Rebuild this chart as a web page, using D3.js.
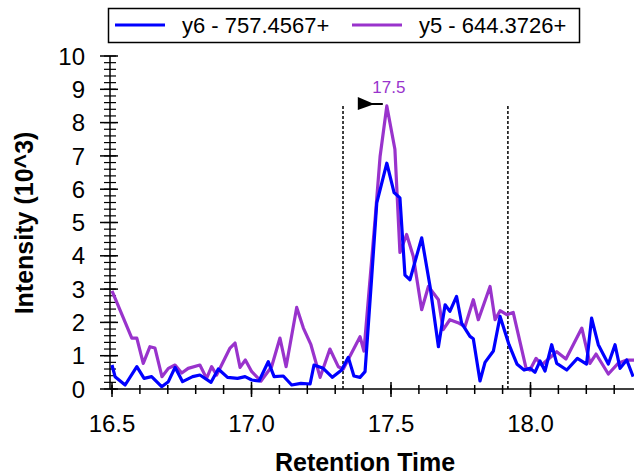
<!DOCTYPE html>
<html>
<head>
<meta charset="utf-8">
<script src="https://cdn.jsdelivr.net/npm/d3@7/dist/d3.min.js"></script>
<style>
body { margin: 0; background: #fff; }
text { font-family: "Liberation Sans", Arial, sans-serif; }
</style>
</head>
<body>
<svg width="634" height="476"></svg>
<script>
// y5 - 644.3726+ (purple)
var rtY5 = [16.50,16.571,16.589,16.612,16.636,16.654,16.679,16.702,16.726,16.750,16.773,16.815,16.839,16.857,16.875,16.923,16.941,16.959,16.978,17.001,17.034,17.072,17.102,17.124,17.162,17.186,17.213,17.246,17.281,17.311,17.329,17.389,17.403,17.443,17.461,17.485,17.514,17.532,17.556,17.580,17.610,17.634,17.670,17.687,17.711,17.740,17.765,17.795,17.813,17.855,17.873,17.891,17.915,17.938,17.984,17.998,18.020,18.040,18.094,18.127,18.184,18.213,18.235,18.279,18.314,18.345,18.371];
var intY5 = [2.95,1.53,1.53,0.77,1.27,1.23,0.37,0.62,0.72,0.48,0.62,0.72,0.32,0.67,0.42,1.23,1.38,0.65,0.87,0.52,0.24,0.67,1.53,0.67,2.45,1.83,1.33,0.35,1.20,0.67,0.60,1.57,1.14,5.09,6.99,8.50,7.20,4.10,4.64,3.98,2.38,3.08,2.68,1.78,2.08,1.99,1.87,2.68,2.08,3.08,2.08,2.35,2.23,2.30,0.63,0.57,0.92,0.72,1.12,0.90,1.83,0.77,1.05,0.45,0.77,0.87,0.87];

// y6 - 757.4567+ (blue)
var rtY6 = [16.50,16.511,16.547,16.589,16.615,16.642,16.678,16.702,16.726,16.753,16.789,16.815,16.855,16.881,16.914,16.950,16.977,17.001,17.027,17.060,17.081,17.114,17.144,17.177,17.210,17.224,17.257,17.290,17.323,17.347,17.367,17.389,17.407,17.431,17.449,17.485,17.511,17.532,17.550,17.568,17.610,17.640,17.670,17.694,17.711,17.735,17.753,17.783,17.795,17.819,17.837,17.867,17.891,17.923,17.952,17.977,17.998,18.016,18.034,18.052,18.076,18.094,18.130,18.168,18.201,18.219,18.243,18.279,18.303,18.321,18.345,18.368];
var intY6 = [0.72,0.37,0.12,0.67,0.32,0.37,0.07,0.22,0.65,0.22,0.37,0.42,0.20,0.60,0.35,0.32,0.37,0.27,0.24,0.82,0.37,0.39,0.12,0.17,0.15,0.72,0.62,0.35,0.57,0.95,0.39,0.35,0.52,3.38,5.59,6.78,5.90,5.74,3.42,3.28,4.54,3.08,1.27,2.53,2.33,2.78,1.98,1.58,1.51,0.24,0.80,1.14,2.18,1.33,0.74,0.57,0.62,0.50,0.84,0.54,1.33,0.77,0.57,0.92,0.75,2.13,1.33,0.75,1.33,0.62,0.87,0.37];

var seriesNames = ["y6 - 757.4567+", "y5 - 644.3726+"];
var seriesColors = ["#0000ff", "#9933cc"];

var xTicks = [16.5, 17.0, 17.5, 18.0];
var yTicks = [0,1,2,3,4,5,6,7,8,9,10];

// peak integration boundaries and apex
var boundaries = [17.328, 17.919];
var peakRt = 17.485, peakInt = 8.5, peakLabel = "17.5";

var svg = d3.select("svg");

var x = d3.scaleLinear().domain([16.5, 18.0]).range([112, 530.5]);
var y = d3.scaleLinear().domain([0, 10]).range([389, 56]);

var axisX = 110, right = 634;

svg.append("defs").append("clipPath").attr("id", "clip")
  .append("rect").attr("x", axisX).attr("y", 40).attr("width", right - axisX).attr("height", 350);

// x axis
svg.append("line").attr("x1", axisX).attr("x2", right).attr("y1", y(0)).attr("y2", y(0))
  .attr("stroke", "#000").attr("stroke-width", 1.5);

var xMinor = d3.range(16.5, 18.45, 0.1).filter(function(d) { return x(d) <= right; });
svg.append("g").selectAll("line").data(xMinor).enter().append("line")
  .attr("x1", function(d) { return x(d); }).attr("x2", function(d) { return x(d); })
  .attr("y1", y(0) - 4).attr("y2", y(0) + 5)
  .attr("stroke", "#000").attr("stroke-width", 1.5);

svg.append("g").selectAll("line").data(xTicks).enter().append("line")
  .attr("x1", function(d) { return x(d); }).attr("x2", function(d) { return x(d); })
  .attr("y1", y(0) - 7).attr("y2", y(0) + 8)
  .attr("stroke", "#000").attr("stroke-width", 1.5);

svg.append("g").selectAll("text").data(xTicks).enter().append("text")
  .attr("x", function(d) { return x(d); }).attr("y", 432)
  .attr("text-anchor", "middle").attr("font-size", 24)
  .text(function(d) { return d3.format(".1f")(d); });

// y axis
svg.append("line").attr("x1", axisX).attr("x2", axisX).attr("y1", y(10)).attr("y2", y(0))
  .attr("stroke", "#000").attr("stroke-width", 1.5);

var yMinor = d3.range(0, 10.01, 0.2);
svg.append("g").selectAll("line").data(yMinor).enter().append("line")
  .attr("x1", axisX - 6).attr("x2", axisX + 6)
  .attr("y1", function(d) { return y(d); }).attr("y2", function(d) { return y(d); })
  .attr("stroke", "#000").attr("stroke-width", 1.2);

svg.append("g").selectAll("line").data(yTicks).enter().append("line")
  .attr("x1", axisX - 10).attr("x2", axisX + 8)
  .attr("y1", function(d) { return y(d); }).attr("y2", function(d) { return y(d); })
  .attr("stroke", "#000").attr("stroke-width", 1.5);

svg.append("g").selectAll("text").data(yTicks).enter().append("text")
  .attr("x", 85).attr("y", function(d) { return y(d); })
  .attr("dy", "0.36em")
  .attr("text-anchor", "end").attr("font-size", 24)
  .text(function(d) { return d; });

// axis titles
svg.append("text").attr("x", 365).attr("y", 471)
  .attr("text-anchor", "middle").attr("font-size", 25).attr("font-weight", "bold")
  .text("Retention Time");

svg.append("text").attr("transform", "translate(33,223) rotate(-90)")
  .attr("text-anchor", "middle").attr("font-size", 25).attr("font-weight", "bold")
  .text("Intensity (10^3)");

// boundaries
svg.append("g").selectAll("line").data(boundaries).enter().append("line")
  .attr("x1", function(d) { return x(d); }).attr("x2", function(d) { return x(d); })
  .attr("y1", y(peakInt)).attr("y2", y(0))
  .attr("stroke", "#000").attr("stroke-width", 1.5).attr("stroke-dasharray", "3,2");

// lines
var line = d3.line()
  .x(function(d) { return x(d[0]); })
  .y(function(d) { return y(d[1]); });

var lineData = [d3.zip(rtY6, intY6), d3.zip(rtY5, intY5)];
var plot = svg.append("g").attr("clip-path", "url(#clip)");
[1, 0].forEach(function(i) {
  plot.append("path").datum(lineData[i])
    .attr("d", line)
    .attr("fill", "none")
    .attr("stroke", seriesColors[i])
    .attr("stroke-width", 3.2)
    .attr("stroke-linejoin", "round");
});

// apex label and marker
var px = x(peakRt), py = y(peakInt);
svg.append("text").attr("x", px + 2).attr("y", py - 13)
  .attr("text-anchor", "middle").attr("font-size", 17).attr("fill", seriesColors[1])
  .text(peakLabel);
svg.append("path")
  .attr("d", "M" + (px - 29) + "," + (py - 9) + "L" + (px - 29) + "," + (py + 4) +
    "L" + (px - 15) + "," + (py - 1) + "L" + (px - 4) + "," + (py - 1) +
    "L" + (px - 4) + "," + (py - 3) + "L" + (px - 15) + "," + (py - 3) + "Z")
  .attr("fill", "#000");

// legend
var legend = svg.append("g");
legend.append("rect").attr("x", 108.5).attr("y", 8.5).attr("width", 471).attr("height", 34)
  .attr("fill", "#fff").attr("stroke", "#000").attr("stroke-width", 1.5);
var legX = [115, 352];
seriesNames.forEach(function(name, i) {
  legend.append("line").attr("x1", legX[i]).attr("x2", legX[i] + 50).attr("y1", 25).attr("y2", 25)
    .attr("stroke", seriesColors[i]).attr("stroke-width", 3);
  legend.append("text").attr("x", legX[i] + 67).attr("y", 33).attr("font-size", 22)
    .text(name);
});
</script>
</body>
</html>
